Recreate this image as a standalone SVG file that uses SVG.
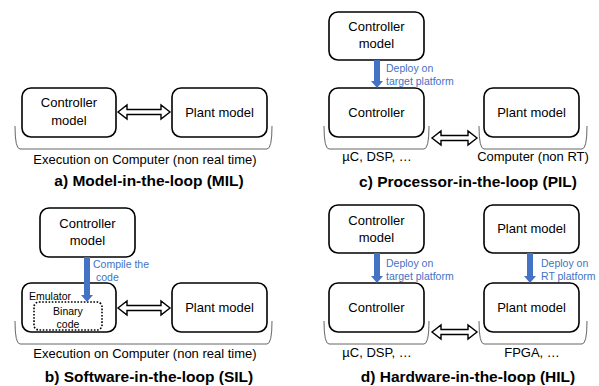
<svg xmlns="http://www.w3.org/2000/svg" width="599" height="386" viewBox="0 0 599 386">
<style>
.box{fill:#fff;stroke:#000;stroke-width:1.6}
.dot{fill:none;stroke:#000;stroke-width:1.6;stroke-dasharray:1.6 1.6}
.t{font-family:"Liberation Sans",Arial,sans-serif;font-size:13px;fill:#000;text-anchor:middle}
.s{font-family:"Liberation Sans",Arial,sans-serif;font-size:10.5px;fill:#000}
.b{font-family:"Liberation Sans",Arial,sans-serif;font-size:10.5px;fill:#4472C4}
.h{font-family:"Liberation Sans",Arial,sans-serif;font-size:15.5px;font-weight:bold;fill:#000;text-anchor:middle}
.br{fill:none;stroke:#666;stroke-width:1}
.da{fill:#fff;stroke:#000;stroke-width:1.4;stroke-linejoin:miter}
.ba{fill:#4472C4}
</style>
<!-- Panel a -->
<g id="a-controller-model"><rect class="box" x="22" y="88" width="94" height="49" rx="9"/><text class="t" x="69" y="107">Controller</text><text class="t" x="69" y="125">model</text></g>
<g id="a-plant-model"><rect class="box" x="172" y="88" width="95" height="49" rx="9"/><text class="t" x="219.5" y="117">Plant model</text></g>
<g id="a-labels"><text class="t" x="145" y="164">Execution on Computer (non real time)</text><text class="h" x="149" y="186">a) Model-in-the-loop (MIL)</text></g>
<!-- Panel c -->
<g id="c-controller-model"><rect class="box" x="329" y="12" width="95" height="48" rx="9"/><text class="t" x="376.5" y="31">Controller</text><text class="t" x="376.5" y="48">model</text></g>
<g id="c-controller"><rect class="box" x="329" y="88" width="95" height="49" rx="9"/><text class="t" x="376.5" y="117">Controller</text></g>
<g id="c-plant-model"><rect class="box" x="484" y="88" width="95" height="49" rx="9"/><text class="t" x="531.5" y="117">Plant model</text></g>
<g id="c-labels"><text class="b" x="386" y="72">Deploy on</text><text class="b" x="386" y="85">target platform</text><text class="t" x="377" y="161">µC, DSP, …</text><text class="t" x="533" y="161">Computer (non RT)</text><text class="h" x="468" y="187">c) Processor-in-the-loop (PIL)</text></g>
<!-- Panel b -->
<g id="b-controller-model"><rect class="box" x="40" y="208" width="95" height="49" rx="9"/><text class="t" x="87.5" y="228">Controller</text><text class="t" x="87.5" y="245">model</text></g>
<g id="b-emulator"><rect class="box" x="22" y="283" width="94" height="49" rx="9"/><text class="s" x="29" y="300">Emulator</text><rect class="dot" x="34" y="302" width="68" height="28" rx="5"/><text class="s" x="68" y="315" text-anchor="middle">Binary</text><text class="s" x="68" y="328" text-anchor="middle">code</text></g>
<g id="b-plant-model"><rect class="box" x="172" y="283" width="95" height="49" rx="9"/><text class="t" x="219.5" y="312">Plant model</text></g>
<g id="b-labels"><text class="b" x="93" y="268">Compile the</text><text class="b" x="96" y="281">code</text><text class="t" x="145" y="358">Execution on Computer (non real time)</text><text class="h" x="149" y="382">b) Software-in-the-loop (SIL)</text></g>
<!-- Panel d -->
<g id="d-controller-model"><rect class="box" x="329" y="205" width="95" height="48" rx="9"/><text class="t" x="376.5" y="225">Controller</text><text class="t" x="376.5" y="242">model</text></g>
<g id="d-plant-model-top"><rect class="box" x="484" y="205" width="95" height="48" rx="9"/><text class="t" x="531.5" y="233">Plant model</text></g>
<g id="d-controller"><rect class="box" x="329" y="283" width="95" height="49" rx="9"/><text class="t" x="376.5" y="312">Controller</text></g>
<g id="d-plant-model"><rect class="box" x="484" y="283" width="95" height="49" rx="9"/><text class="t" x="531.5" y="312">Plant model</text></g>
<g id="d-labels"><text class="b" x="386" y="267">Deploy on</text><text class="b" x="386" y="280">target platform</text><text class="b" x="541" y="267">Deploy on</text><text class="b" x="541" y="280">RT platform</text><text class="t" x="377" y="357">µC, DSP, …</text><text class="t" x="532" y="357">FPGA, …</text><text class="h" x="468" y="382">d) Hardware-in-the-loop (HIL)</text></g>
<!-- Connectors -->
<g id="connectors">
<path class="br" d="M15,126 Q15,149 20,149 L267,149 Q272,149 272,126"/>
<path class="br" d="M324,126 Q324,149 329,149 L424,149 Q429,149 429,126"/>
<path class="br" d="M479,126 Q479,149 484,149 L582,149 Q587,149 587,126"/>
<path class="br" d="M15,321 Q15,344 20,344 L267,344 Q272,344 272,321"/>
<path class="br" d="M324,321 Q324,344 329,344 L424,344 Q429,344 429,321"/>
<path class="br" d="M479,321 Q479,344 484,344 L582,344 Q587,344 587,321"/>
<path class="da" d="M118,112 L127,105 L127,109.5 L161,109.5 L161,105 L170,112 L161,119 L161,114.5 L127,114.5 L127,119 Z"/>
<path class="da" d="M118,308 L127,301 L127,305.5 L161,305.5 L161,301 L170,308 L161,315 L161,310.5 L127,310.5 L127,315 Z"/>
<path class="da" d="M432,138 L441,131 L441,135.5 L468,135.5 L468,131 L477,138 L468,145 L468,140.5 L441,140.5 L441,145 Z"/>
<path class="da" d="M432,332 L441,325 L441,329.5 L468,329.5 L468,325 L477,332 L468,339 L468,334.5 L441,334.5 L441,339 Z"/>
<path class="ba" d="M374,60 L380,60 L380,81 L383,81 L377,88 L371,81 L374,81 Z"/>
<path class="ba" d="M84,257 L90,257 L90,295 L93,295 L87,302 L81,295 L84,295 Z"/>
<path class="ba" d="M374,253 L380,253 L380,276 L383,276 L377,283 L371,276 L374,276 Z"/>
<path class="ba" d="M527,253 L533,253 L533,276 L536,276 L530,283 L524,276 L527,276 Z"/>
</g>
</svg>
